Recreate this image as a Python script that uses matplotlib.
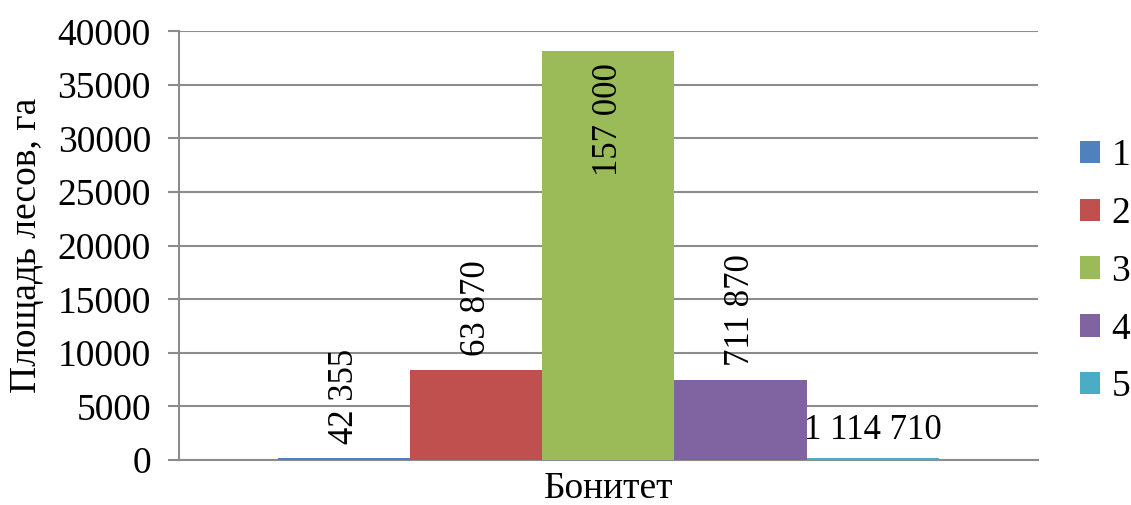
import numpy as np
import matplotlib.pyplot as plt
from matplotlib.patches import Patch

# data
category = 'Бонитет'
series = ['1', '2', '3', '4', '5']
values = [160, 8400, 38200, 7480, 170]
labels = ['42 355', '63 870', '157 000', '711 870', '1 114 710']
colors = ['#4F81BD', '#C0504D', '#9BBB59', '#8064A2', '#4BACC6']

plt.rcParams['font.family'] = ['Liberation Serif', 'DejaVu Serif']
fs = 27
grid_col = '#8c8c8c'

fig = plt.figure(figsize=(11.31, 5.05), dpi=100)
ax = fig.add_axes([0.158, 0.089, 0.760, 0.849])

n = len(series)
group = 0.768
w = group / n
xs = -group / 2 + w / 2 + np.arange(n) * w
bars = ax.bar(xs, values, width=w, color=colors, zorder=3)

# data labels
for i, (b, lab) in enumerate(zip(bars, labels)):
    cx = b.get_x() + b.get_width() / 2
    h = b.get_height()
    if i == 2:
        ax.annotate(lab, (cx, h), xytext=(0, -9), textcoords='offset points',
                    rotation=90, ha='center', va='top', fontsize=25)
    elif i == 4:
        ax.annotate(lab, (cx, h), xytext=(0, 8), textcoords='offset points',
                    ha='center', va='bottom', fontsize=25)
    else:
        ax.annotate(lab, (cx, h), xytext=(0, 10), textcoords='offset points',
                    rotation=90, ha='center', va='bottom', fontsize=25)

ax.set_xlim(-0.5, 0.5)
ax.set_ylim(0, 40000)
ax.set_yticks(np.arange(0, 40001, 5000))
ax.set_xticks([0])
ax.set_xticklabels([category])
ax.tick_params(axis='x', length=0, pad=8, labelsize=fs)
ax.tick_params(axis='y', length=8, width=1.5, color=grid_col, pad=12, labelsize=fs)
ax.yaxis.grid(True, color=grid_col, linewidth=1.5, zorder=0)
ax.set_axisbelow(True)
for s in ['top', 'right']:
    ax.spines[s].set_visible(False)
for s in ['left', 'bottom']:
    ax.spines[s].set_color(grid_col)
    ax.spines[s].set_linewidth(1.5)
    ax.spines[s].set_zorder(1)

ax.set_ylabel('Площадь лесов, га', fontsize=fs, labelpad=10)

handles = [Patch(facecolor=c) for c in colors]
fig.legend(handles, series, loc='center left', bbox_to_anchor=(0.938, 0.462),
           frameon=False, fontsize=fs, handlelength=0.55, handleheight=0.55,
           handletextpad=0.3, labelspacing=0.62, borderpad=0)

fig.savefig('out.png', dpi=100)
